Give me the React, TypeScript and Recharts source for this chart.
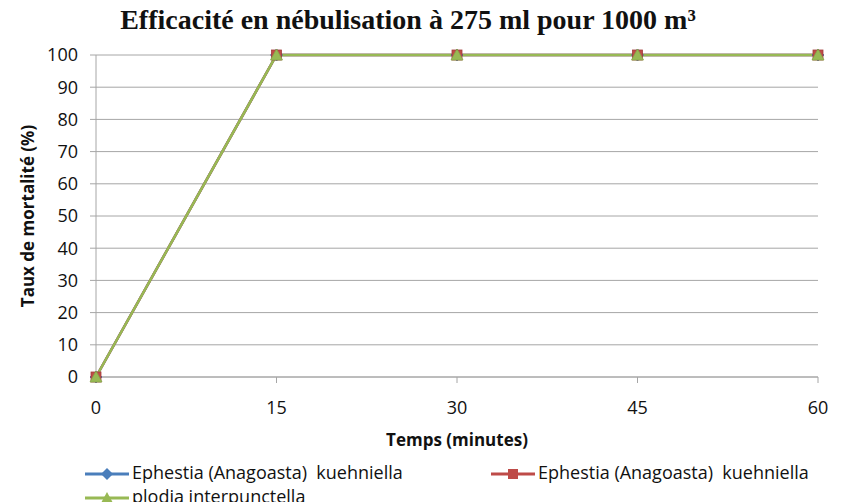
import { LineChart, Line, XAxis, YAxis, CartesianGrid } from 'recharts';

const minutes = [0, 15, 30, 45, 60];
const ephestiaA = [0, 100, 100, 100, 100];
const ephestiaB = [0, 100, 100, 100, 100];
const plodia = [0, 100, 100, 100, 100];
const xTicks = [0, 15, 30, 45, 60];
const yTicks = [0, 10, 20, 30, 40, 50, 60, 70, 80, 90, 100];

const seriesNames = [
  'Ephestia (Anagoasta)  kuehniella',
  'Ephestia (Anagoasta)  kuehniella',
  'plodia interpunctella',
];

const BLUE = '#4a7ebb';
const RED = '#be4b48';
const GREEN = '#98b954';
const FONT = '"Open Sans", "Liberation Sans", sans-serif';

const data = minutes.map((m, i) => ({
  t: m,
  a: ephestiaA[i],
  b: ephestiaB[i],
  c: plodia[i],
}));

const Diamond = (props: any) => {
  const { cx, cy } = props;
  if (cx == null || cy == null) return null;
  const r = 6;
  return (
    <path
      d={`M${cx},${cy - r}L${cx + r},${cy}L${cx},${cy + r}L${cx - r},${cy}Z`}
      fill={BLUE}
      stroke="#3a6aa8"
      strokeWidth={0.8}
    />
  );
};

const Square = (props: any) => {
  const { cx, cy } = props;
  if (cx == null || cy == null) return null;
  const r = 5;
  return <rect x={cx - r} y={cy - r} width={r * 2} height={r * 2} fill={RED} stroke="#a23d3a" strokeWidth={0.8} />;
};

const Triangle = (props: any) => {
  const { cx, cy } = props;
  if (cx == null || cy == null) return null;
  const r = 6;
  return (
    <path
      d={`M${cx},${cy - r}L${cx + r},${cy + r - 1}L${cx - r},${cy + r - 1}Z`}
      fill={GREEN}
      stroke="#86a64a"
      strokeWidth={0.8}
    />
  );
};

// legend item: short line + marker, then text
const LegendSwatch = ({ color, shape }: { color: string; shape: string }) => (
  <svg width={44} height={16} style={{ verticalAlign: 'middle' }}>
    <line x1={0} y1={8} x2={44} y2={8} stroke={color} strokeWidth={3} />
    {shape === 'diamond' && <path d="M22,2L28,8L22,14L16,8Z" fill={color} />}
    {shape === 'square' && <rect x={17} y={3} width={10} height={10} fill={color} />}
    {shape === 'triangle' && <path d="M22,2L28,13L16,13Z" fill={color} />}
  </svg>
);

const legendItems = [
  { left: 85, top: 460, color: BLUE, shape: 'diamond', name: seriesNames[0] },
  { left: 491, top: 460, color: RED, shape: 'square', name: seriesNames[1] },
  { left: 85, top: 484, color: GREEN, shape: 'triangle', name: seriesNames[2] },
];

export default function App() {
  return (
    <div style={{ position: 'absolute', left: 0, top: 0, width: 844, height: 502, background: '#fff', overflow: 'hidden' }}>
      <div
        style={{
          position: 'absolute',
          left: 0,
          top: 4,
          width: 816,
          textAlign: 'center',
          fontFamily: '"Liberation Serif", serif',
          fontWeight: 'bold',
          fontSize: 28,
          color: '#111',
        }}
      >
        Efficacité en nébulisation à 275 ml pour 1000 m³
      </div>
      <LineChart width={844} height={502} data={data} margin={{ top: 55, right: 26, bottom: 0, left: 0 }}>
        <CartesianGrid vertical={false} stroke="#a6a6a6" />
        <XAxis
          dataKey="t"
          type="number"
          domain={[0, 60]}
          ticks={xTicks}
          height={125}
          stroke="#a6a6a6"
          tickSize={6}
          tickMargin={18}
          tick={{ fill: '#111', fontSize: 18, fontFamily: FONT }}
          label={{ value: 'Temps (minutes)', position: 'insideTop', offset: 57, fill: '#111', fontSize: 17, fontWeight: 'bold', fontFamily: FONT }}
        />
        <YAxis
          type="number"
          domain={[0, 100]}
          ticks={yTicks}
          width={96}
          stroke="#a6a6a6"
          tickSize={6}
          tickMargin={12}
          tick={{ fill: '#111', fontSize: 18, fontFamily: FONT }}
          label={{ value: 'Taux de mortalité (%)', angle: -90, position: 'insideLeft', offset: 28, fill: '#111', fontSize: 17, fontWeight: 'bold', fontFamily: FONT, style: { textAnchor: 'middle' } }}
        />
        <Line dataKey="a" name={seriesNames[0]} stroke={BLUE} strokeWidth={2.5} dot={<Diamond />} isAnimationActive={false} />
        <Line dataKey="b" name={seriesNames[1]} stroke={RED} strokeWidth={2.5} dot={<Square />} isAnimationActive={false} />
        <Line dataKey="c" name={seriesNames[2]} stroke={GREEN} strokeWidth={2.5} dot={<Triangle />} isAnimationActive={false} />
      </LineChart>
      {legendItems.map((it, i) => (
        <div
          key={i}
          style={{ position: 'absolute', left: it.left, top: it.top, whiteSpace: 'pre', fontFamily: FONT, fontSize: 18, color: '#111', lineHeight: '24px' }}
        >
          <LegendSwatch color={it.color} shape={it.shape} />
          <span style={{ marginLeft: 3 }}>{it.name}</span>
        </div>
      ))}
    </div>
  );
}
